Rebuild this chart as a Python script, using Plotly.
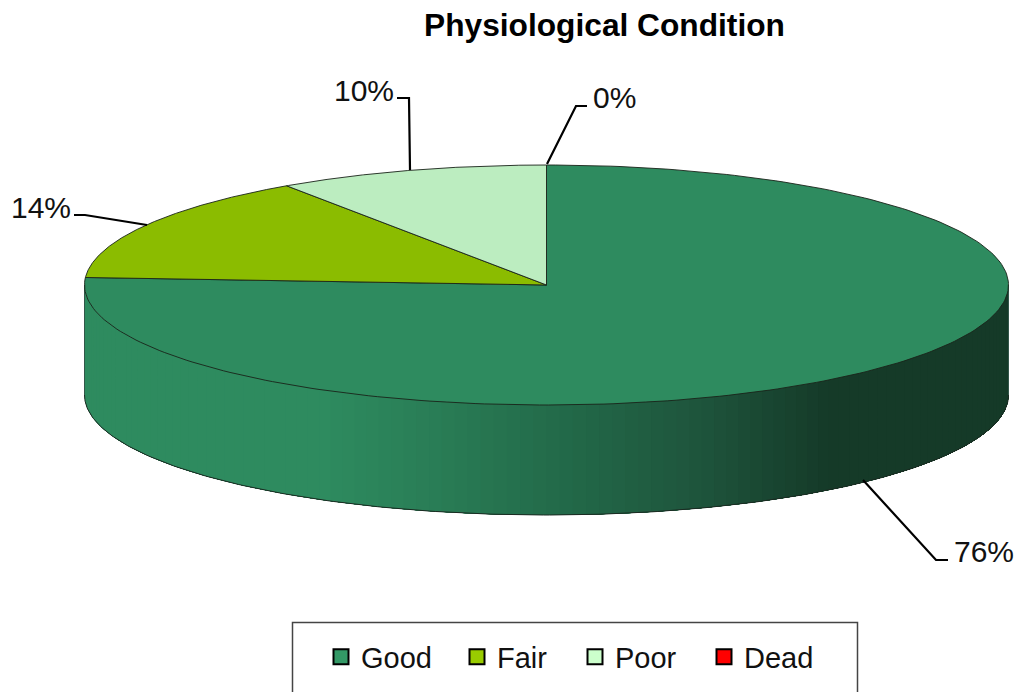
import numpy as np
import plotly.graph_objects as go

W, H = 1019, 692
categories = ["Good", "Fair", "Poor", "Dead"]
values = [76.0, 14.49, 9.51, 0.0]
pct_labels = ["76%", "14%", "10%", "0%"]
top_colors = ["#2E8B5F", "#8BBC00", "#BCEDC0", "#E00000"]
legend_colors = ["#339966", "#99CC00", "#CCFFCC", "#FF0000"]
legend_x = [321, 457, 575, 704]

CX, CY, RX, RY, DEPTH = 546.5, 285.0, 462.0, 120.0, 110.0

grad_pos = [0.0, 0.25, 0.38, 0.52, 0.66, 0.80, 1.0]
grad_col = [(46, 139, 95), (46, 139, 95), (41, 124, 85), (34, 104, 72), (30, 84, 60), (21, 58, 40), (21, 58, 40)]

leader_x = [[863, 936, 948], [74, 85, 147], [397, 409, 410], [547, 576, 587]]
leader_y = [[480, 560, 560], [215, 215, 225], [98, 98, 170], [164, 106, 106]]
label_x = [952, 9, 332, 591]
label_y = [551, 207, 90, 97]

FONT = "Liberation Sans, Arial, sans-serif"


def rim(t):
    return CX + RX * np.sin(t), CY - RY * np.cos(t)


fig = go.Figure()

# side wall: painted left to right, each band reaching the right end so no seams show
n = 110
edges = np.linspace(3 * np.pi / 2, np.pi / 2, n + 1)
for a in edges[:-1]:
    ts = np.linspace(a, np.pi / 2, 200)
    x, y = rim(ts)
    u = (np.sin(a) + 1) / 2
    rgb = [np.interp(u, grad_pos, [c[i] for c in grad_col]) for i in range(3)]
    col = "rgb(%d,%d,%d)" % tuple(round(v) for v in rgb)
    fig.add_trace(go.Scatter(
        x=np.r_[x, x[::-1]], y=np.r_[y, y[::-1] + DEPTH], mode="lines",
        fill="toself", fillcolor=col, line=dict(color=col, width=0),
        showlegend=False, hoverinfo="skip"))

# outline of the wall
ts = np.linspace(np.pi / 2, 3 * np.pi / 2, 240)
x, y = rim(ts)
fig.add_trace(go.Scatter(x=x, y=y + DEPTH, mode="lines",
                         line=dict(color="#1c2a22", width=1), showlegend=False, hoverinfo="skip"))
for t in (np.pi / 2, 3 * np.pi / 2):
    x0, y0 = rim(np.array([t]))
    fig.add_trace(go.Scatter(x=[x0[0], x0[0]], y=[y0[0], y0[0] + DEPTH], mode="lines",
                             line=dict(color="#33574a", width=1), showlegend=False, hoverinfo="skip"))

# top face, one wedge per category
cum = np.cumsum([0] + values) / sum(values) * 2 * np.pi
for i, name in enumerate(categories):
    if values[i] <= 0:
        continue
    ts = np.linspace(cum[i], cum[i + 1], 240)
    x, y = rim(ts)
    fig.add_trace(go.Scatter(
        x=np.r_[CX, x, CX], y=np.r_[CY, y, CY], mode="lines", fill="toself",
        fillcolor=top_colors[i], line=dict(color="rgba(25,35,25,0.9)", width=1),
        showlegend=False, name=name, hoverinfo="skip"))

# leader lines
for lx, ly in zip(leader_x, leader_y):
    fig.add_trace(go.Scatter(x=lx, y=ly, mode="lines", line=dict(color="black", width=2.2),
                             showlegend=False, hoverinfo="skip"))

# legend entries
legends = {}
for i, name in enumerate(categories):
    key = "legend" if i == 0 else f"legend{i + 1}"
    fig.add_trace(go.Scatter(
        x=[None], y=[None], mode="markers", name=name, legend=key,
        marker=dict(symbol="square", size=15, color=legend_colors[i], line=dict(color="black", width=2))))
    legends[key] = dict(x=legend_x[i] / W, y=1 - 657 / H, xanchor="left", yanchor="middle",
                        bgcolor="rgba(0,0,0,0)", borderwidth=0, itemwidth=30,
                        font=dict(family=FONT, size=29, color="#111111"),
                        itemclick=False, itemdoubleclick=False)

annotations = [dict(x=lx, y=ly, xref="x", yref="y", text=t, showarrow=False,
                    xanchor="left", yanchor="middle", align="left",
                    font=dict(family=FONT, size=30, color="#111111"))
               for lx, ly, t in zip(label_x, label_y, pct_labels)]

fig.update_layout(
    width=W, height=H, autosize=False, margin=dict(l=0, r=0, t=0, b=0),
    paper_bgcolor="white", plot_bgcolor="white",
    title=dict(text="<b>Physiological Condition</b>", x=604.5 / W, xanchor="center", xref="paper",
               y=1 - 25 / H, yanchor="middle", yref="paper",
               font=dict(family=FONT, size=31.7, color="black")),
    xaxis=dict(range=[0, W], visible=False, fixedrange=True),
    yaxis=dict(range=[H, 0], visible=False, fixedrange=True),
    annotations=annotations,
    shapes=[dict(type="rect", xref="x", yref="y", x0=292.5, x1=857.5, y0=622.5, y1=H + 20,
                 line=dict(color="#444444", width=1.5), layer="below")],
    **legends,
)

fig.write_html("out.html", config={"displayModeBar": False},
               post_script="document.body.style.margin='0';document.documentElement.style.overflow='hidden';")
